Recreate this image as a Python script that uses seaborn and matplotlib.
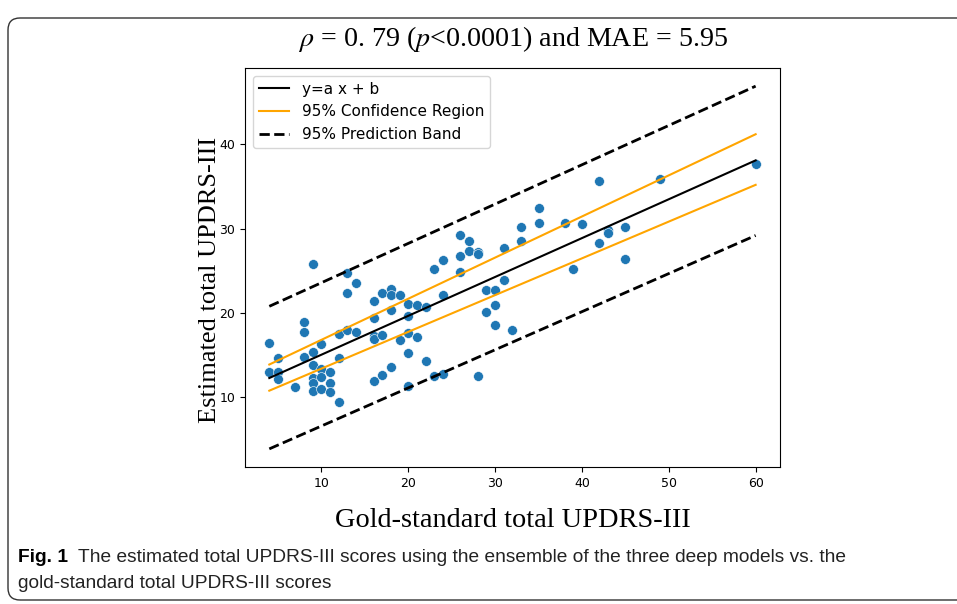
import numpy as np
import matplotlib
matplotlib.use("Agg")
import matplotlib.pyplot as plt
from matplotlib.patches import FancyBboxPatch
import seaborn as sns

# gold-standard vs estimated total UPDRS-III
gold = [4, 4, 5, 5, 5, 7,
        8, 8, 8,
        9, 9, 9, 9, 9, 9,
        10, 10, 10, 10,
        11, 11, 11,
        12, 12, 12,
        13, 13, 13,
        14, 14,
        16, 16, 16, 16, 16,
        17, 17, 17,
        18, 18, 18, 18,
        19, 19,
        20, 20, 20, 20, 20,
        21, 21,
        22, 22,
        23, 23,
        24, 24, 24,
        26, 26, 26,
        27, 27,
        28, 28, 28,
        29, 29,
        30, 30, 30,
        31, 31,
        32,
        33, 33,
        35, 35,
        38, 39, 40,
        42, 42,
        43, 43,
        45, 45,
        49, 60]
estimated = [16.5, 13.0, 14.7, 13.0, 12.2, 11.2,
             18.9, 17.8, 14.8,
             25.8, 15.4, 13.9, 12.3, 11.7, 10.8,
             16.3, 13.4, 12.4, 11.0,
             13.0, 11.7, 10.7,
             17.5, 14.7, 9.5,
             24.7, 22.4, 18.0,
             23.6, 17.8,
             21.4, 19.4, 17.3, 16.9, 12.0,
             22.4, 17.4, 12.7,
             22.8, 22.2, 20.4, 13.6,
             22.2, 16.8,
             21.1, 19.7, 17.6, 15.3, 11.4,
             21.0, 17.2,
             20.7, 14.3,
             25.2, 12.5,
             26.3, 22.2, 12.8,
             29.3, 26.8, 24.9,
             28.5, 27.3,
             27.2, 26.95, 12.5,
             22.7, 20.1,
             22.7, 21.0, 18.6,
             27.7, 23.9,
             18.0,
             30.2, 28.5,
             32.4, 30.7,
             30.7, 25.2, 30.6,
             35.7, 28.3,
             29.9, 29.5,
             30.2, 26.4,
             35.9, 37.7]

# fitted line and bands, values at the ends of the gold-standard range
line_x = [4, 60]
fit_y = [12.3, 38.1]
ci_upper = [13.9, 41.2]
ci_lower = [10.8, 35.2]
pb_upper = [20.8, 46.9]
pb_lower = [3.9, 29.2]

title = r"$\rho$ = 0. 79 ($p$<0.0001) and MAE = 5.95"
caption_bold = "Fig. 1"
caption_line1 = "The estimated total UPDRS-III scores using the ensemble of the three deep models vs. the"
caption_line2 = "gold-standard total UPDRS-III scores"

plt.rcParams["mathtext.fontset"] = "stix"
serif = ["Liberation Serif", "DejaVu Serif"]
narrow = ["Liberation Sans Narrow", "Liberation Sans", "DejaVu Sans"]

fig = plt.figure(figsize=(9.57, 6.04), dpi=100)
ax = fig.add_axes([0.256, 0.2268, 0.559, 0.6606])

sns.scatterplot(x=gold, y=estimated, ax=ax, s=50, color="#1f77b4",
                edgecolor="white", linewidth=0.4, zorder=2)
sns.lineplot(x=line_x, y=fit_y, ax=ax, color="black", lw=1.5,
             label="y=a x + b", zorder=3)
sns.lineplot(x=line_x, y=ci_upper, ax=ax, color="orange", lw=1.5,
             label="95% Confidence Region", zorder=3)
sns.lineplot(x=line_x, y=ci_lower, ax=ax, color="orange", lw=1.5, zorder=3)
sns.lineplot(x=line_x, y=pb_upper, ax=ax, color="black", lw=2, ls="--",
             label="95% Prediction Band", zorder=3)
sns.lineplot(x=line_x, y=pb_lower, ax=ax, color="black", lw=2, ls="--", zorder=3)

ax.legend(loc="upper left", fontsize=11)
ax.tick_params(labelsize=9)
ax.set_title(title, family=serif, fontsize=20.2, pad=16)
ax.set_xlabel("Gold-standard total UPDRS-III", family=serif, fontsize=20.4, labelpad=13)
ax.set_ylabel("Estimated total UPDRS-III", family=serif, fontsize=19)
ax.yaxis.set_label_coords(-0.045, 0.47)

# rounded panel border
box = FancyBboxPatch((0.08, 0.04), 10.0, 5.82, boxstyle="round,pad=0,rounding_size=0.12",
                     transform=fig.dpi_scale_trans, fill=False, ec="#333333", lw=1.0)
fig.add_artist(box)

t1 = fig.text(18 / 957, 1 - 557 / 604, caption_bold, family=narrow, fontsize=13.8,
              fontweight="bold", va="center", ha="left")
fig.canvas.draw()
ax.annotate(caption_line1, xy=(1, 0.5), xycoords=t1, xytext=(7, 0),
            textcoords="offset points", va="center", ha="left",
            family=narrow, fontsize=13.8, color="#222222")
fig.text(18 / 957, 1 - 584 / 604, caption_line2, family=narrow, fontsize=13.8,
         va="center", ha="left", color="#222222")

fig.savefig("out.png", dpi=100)
